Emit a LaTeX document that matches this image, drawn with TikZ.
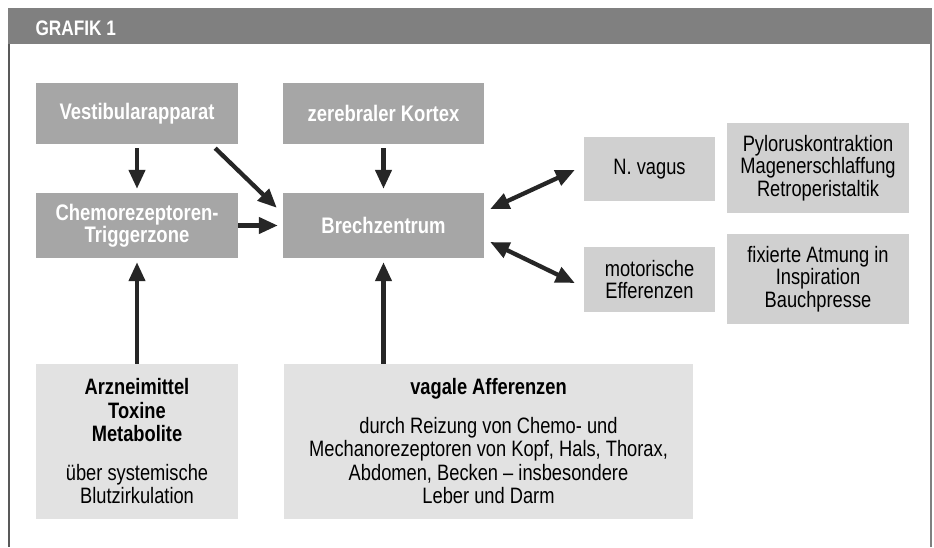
\documentclass[tikz,border=0pt]{standalone}
\usepackage{fontspec}
\setmainfont[FakeStretch=0.82]{Liberation Sans}
\usetikzlibrary{calc,arrows.meta}
\definecolor{bandgray}{HTML}{808080}
\definecolor{darkbox}{HTML}{A6A6A6}
\definecolor{midbox}{HTML}{D0D0D0}
\definecolor{lightbox}{HTML}{E2E2E2}
\definecolor{arrowc}{HTML}{262626}
\tikzset{darkb/.style = {fill=darkbox, text=white, font=\bfseries\fontsize{22.5}{22}\selectfont, align=center, inner sep=0pt},
         midb/.style = {fill=midbox, font=\fontsize{22.3}{22.5}\selectfont, align=center, inner sep=0pt},
         lightb/.style = {fill=lightbox, font=\fontsize{22.3}{23.5}\selectfont, align=center, inner sep=0pt},
         pfeil/.style = {draw=arrowc, line width=4.3pt, -{Triangle[length=19pt,width=16pt]}},
         dpfeil/.style = {pfeil, {Triangle[length=19pt,width=16pt]}-{Triangle[length=19pt,width=16pt]}}}

\begin{document}
\begin{tikzpicture}[x=1pt,y=-1pt]
	\fill[white] (0,0) rectangle (934,547);
	\useasboundingbox (0,0) rectangle (934,547);
	\fill[bandgray] (8,8) rectangle (932,44);
	\draw[line width=1.5pt, gray!70!black] (9,44) -- (9,547);
	\draw[line width=1.2pt, gray] (931,44) -- (931,547);
\node[anchor=base west, text=white, font=\bfseries\fontsize{21}{24}\selectfont] (titel) at (32,35) {GRAFIK 1};
\node[darkb, minimum width=202, minimum height=61] (vest) at (137,113.5) {Vestibularapparat};
\node[darkb, minimum width=201, minimum height=61] (kortex) at (383.5,113.5) {zerebraler Kortex};
\node[darkb, minimum width=202, minimum height=65] (chemo) at (137,225.5) {Chemorezeptoren-\\Triggerzone};
\node[darkb, minimum width=201, minimum height=65] (brech) at (383.5,225.5) {Brechzentrum};
\node[midb, minimum width=131, minimum height=64] (nvagus) at (649.5,169) {N. vagus};
\node[midb, minimum width=182, minimum height=90] (pylorus) at (818,168) {Pyloruskontraktion\\Magenerschlaffung\\Retroperistaltik};
\node[midb, minimum width=131, minimum height=65] (motor) at (649.5,279.5) {motorische\\Efferenzen};
\node[midb, minimum width=182, minimum height=90] (fix) at (818,279) {fixierte Atmung in\\Inspiration\\Bauchpresse};
\node[lightb, minimum width=202, minimum height=155] (arz) at (137,441.5) {\textbf{Arzneimittel}\\\textbf{Toxine}\\\textbf{Metabolite}\\[15pt]über systemische\\Blutzirkulation};
\node[lightb, minimum width=409, minimum height=155] (vagale) at (488.5,441.5) {\textbf{vagale Afferenzen}\\[15pt]durch Reizung von Chemo- und\\Mechanorezeptoren von Kopf, Hals, Thorax,\\Abdomen, Becken – insbesondere\\Leber und Darm};
\draw[pfeil, shorten <=4pt, shorten >=4pt] (vest) -- (chemo);
\draw[pfeil, shorten <=4pt, shorten >=4pt] (kortex) -- (brech);
\draw[pfeil] ($(vest.south east)+(-23,4)$) -- ($(brech.north west)+(-6,15)$);
\draw[pfeil, shorten >=5pt] (chemo) -- (brech);
\draw[pfeil, shorten >=4pt] (arz) -- (chemo);
\draw[pfeil, shorten >=4pt] (brech.south |- vagale.north) -- (brech.south);
\draw[dpfeil] ($(brech.east)+(6,-16.5)$) -- ($(nvagus.west)+(-9,1)$);
\draw[dpfeil] ($(brech.east)+(6,16.5)$) -- ($(motor.west)+(-9,3.5)$);
\end{tikzpicture}
\end{document}
